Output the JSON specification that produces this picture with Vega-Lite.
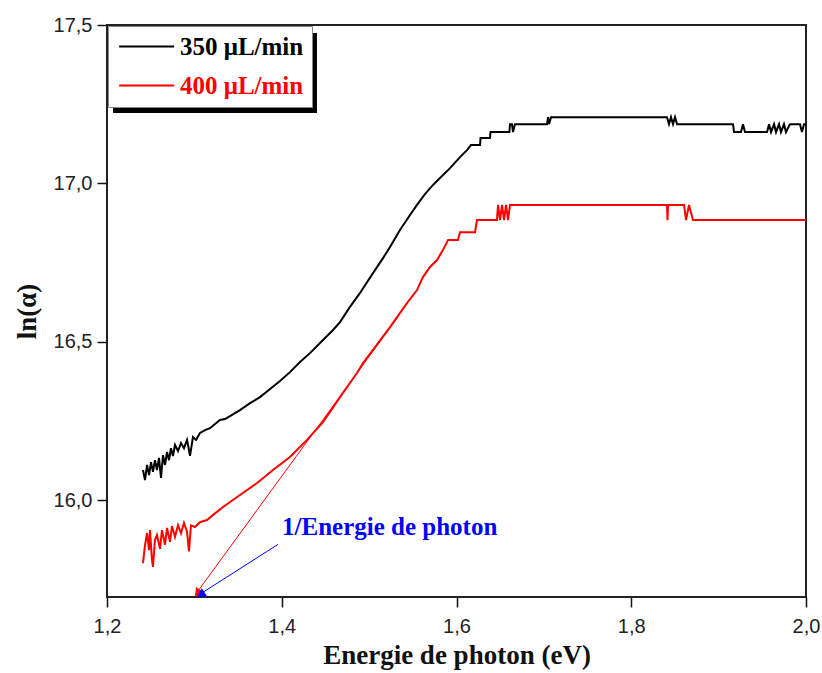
{
  "$schema": "https://vega.github.io/schema/vega-lite/v6.json",
  "width": 699,
  "height": 572,
  "autosize": "none",
  "padding": {"left": 107, "top": 25, "right": 16, "bottom": 76},
  "background": "white",
  "config": {
    "view": {"stroke": "#222", "strokeWidth": 2},
    "axis": {"grid": false, "domain": false, "ticks": true, "tickColor": "#111", "tickWidth": 1.5, "tickSize": 10}
  },
  "datasets": {
    "curves": [
      {"series": "350 μL/min", "i": 1, "E": 1.2412, "lna": 16.095},
      {"series": "350 μL/min", "i": 2, "E": 1.2435, "lna": 16.063},
      {"series": "350 μL/min", "i": 3, "E": 1.2458, "lna": 16.111},
      {"series": "350 μL/min", "i": 4, "E": 1.2481, "lna": 16.079},
      {"series": "350 μL/min", "i": 5, "E": 1.2504, "lna": 16.120},
      {"series": "350 μL/min", "i": 6, "E": 1.2526, "lna": 16.089},
      {"series": "350 μL/min", "i": 7, "E": 1.2549, "lna": 16.126},
      {"series": "350 μL/min", "i": 8, "E": 1.2572, "lna": 16.095},
      {"series": "350 μL/min", "i": 9, "E": 1.2595, "lna": 16.133},
      {"series": "350 μL/min", "i": 10, "E": 1.2618, "lna": 16.070},
      {"series": "350 μL/min", "i": 11, "E": 1.2641, "lna": 16.142},
      {"series": "350 μL/min", "i": 12, "E": 1.2664, "lna": 16.111},
      {"series": "350 μL/min", "i": 13, "E": 1.2687, "lna": 16.152},
      {"series": "350 μL/min", "i": 14, "E": 1.2710, "lna": 16.126},
      {"series": "350 μL/min", "i": 15, "E": 1.2732, "lna": 16.164},
      {"series": "350 μL/min", "i": 16, "E": 1.2755, "lna": 16.139},
      {"series": "350 μL/min", "i": 17, "E": 1.2778, "lna": 16.174},
      {"series": "350 μL/min", "i": 18, "E": 1.2813, "lna": 16.155},
      {"series": "350 μL/min", "i": 19, "E": 1.2847, "lna": 16.180},
      {"series": "350 μL/min", "i": 20, "E": 1.2881, "lna": 16.164},
      {"series": "350 μL/min", "i": 21, "E": 1.2916, "lna": 16.190},
      {"series": "350 μL/min", "i": 22, "E": 1.2950, "lna": 16.140},
      {"series": "350 μL/min", "i": 23, "E": 1.2984, "lna": 16.199},
      {"series": "350 μL/min", "i": 24, "E": 1.3019, "lna": 16.190},
      {"series": "350 μL/min", "i": 25, "E": 1.3064, "lna": 16.212},
      {"series": "350 μL/min", "i": 26, "E": 1.3122, "lna": 16.221},
      {"series": "350 μL/min", "i": 27, "E": 1.3179, "lna": 16.227},
      {"series": "350 μL/min", "i": 28, "E": 1.3236, "lna": 16.240},
      {"series": "350 μL/min", "i": 29, "E": 1.3293, "lna": 16.253},
      {"series": "350 μL/min", "i": 30, "E": 1.3351, "lna": 16.256},
      {"series": "350 μL/min", "i": 31, "E": 1.3408, "lna": 16.265},
      {"series": "350 μL/min", "i": 32, "E": 1.3522, "lna": 16.284},
      {"series": "350 μL/min", "i": 33, "E": 1.3637, "lna": 16.306},
      {"series": "350 μL/min", "i": 34, "E": 1.3751, "lna": 16.325},
      {"series": "350 μL/min", "i": 35, "E": 1.3866, "lna": 16.351},
      {"series": "350 μL/min", "i": 36, "E": 1.3980, "lna": 16.376},
      {"series": "350 μL/min", "i": 37, "E": 1.4094, "lna": 16.404},
      {"series": "350 μL/min", "i": 38, "E": 1.4209, "lna": 16.436},
      {"series": "350 μL/min", "i": 39, "E": 1.4323, "lna": 16.464},
      {"series": "350 μL/min", "i": 40, "E": 1.4438, "lna": 16.496},
      {"series": "350 μL/min", "i": 41, "E": 1.4587, "lna": 16.537},
      {"series": "350 μL/min", "i": 42, "E": 1.4667, "lna": 16.562},
      {"series": "350 μL/min", "i": 43, "E": 1.4781, "lna": 16.610},
      {"series": "350 μL/min", "i": 44, "E": 1.4896, "lna": 16.654},
      {"series": "350 μL/min", "i": 45, "E": 1.4976, "lna": 16.688},
      {"series": "350 μL/min", "i": 46, "E": 1.5067, "lna": 16.726},
      {"series": "350 μL/min", "i": 47, "E": 1.5159, "lna": 16.764},
      {"series": "350 μL/min", "i": 48, "E": 1.5239, "lna": 16.799},
      {"series": "350 μL/min", "i": 49, "E": 1.5353, "lna": 16.853},
      {"series": "350 μL/min", "i": 50, "E": 1.5468, "lna": 16.900},
      {"series": "350 μL/min", "i": 51, "E": 1.5548, "lna": 16.932},
      {"series": "350 μL/min", "i": 52, "E": 1.5639, "lna": 16.966},
      {"series": "350 μL/min", "i": 53, "E": 1.5731, "lna": 16.995},
      {"series": "350 μL/min", "i": 54, "E": 1.5811, "lna": 17.017},
      {"series": "350 μL/min", "i": 55, "E": 1.5926, "lna": 17.048},
      {"series": "350 μL/min", "i": 56, "E": 1.6040, "lna": 17.083},
      {"series": "350 μL/min", "i": 57, "E": 1.6120, "lna": 17.105},
      {"series": "350 μL/min", "i": 58, "E": 1.6166, "lna": 17.121},
      {"series": "350 μL/min", "i": 59, "E": 1.6269, "lna": 17.121},
      {"series": "350 μL/min", "i": 60, "E": 1.6275, "lna": 17.143},
      {"series": "350 μL/min", "i": 61, "E": 1.6383, "lna": 17.143},
      {"series": "350 μL/min", "i": 62, "E": 1.6389, "lna": 17.162},
      {"series": "350 μL/min", "i": 63, "E": 1.6606, "lna": 17.162},
      {"series": "350 μL/min", "i": 64, "E": 1.6612, "lna": 17.187},
      {"series": "350 μL/min", "i": 65, "E": 1.6635, "lna": 17.187},
      {"series": "350 μL/min", "i": 66, "E": 1.6647, "lna": 17.162},
      {"series": "350 μL/min", "i": 67, "E": 1.6669, "lna": 17.187},
      {"series": "350 μL/min", "i": 68, "E": 1.7036, "lna": 17.187},
      {"series": "350 μL/min", "i": 69, "E": 1.7048, "lna": 17.209},
      {"series": "350 μL/min", "i": 70, "E": 1.7059, "lna": 17.187},
      {"series": "350 μL/min", "i": 71, "E": 1.7082, "lna": 17.209},
      {"series": "350 μL/min", "i": 72, "E": 1.8409, "lna": 17.209},
      {"series": "350 μL/min", "i": 73, "E": 1.8432, "lna": 17.187},
      {"series": "350 μL/min", "i": 74, "E": 1.8455, "lna": 17.209},
      {"series": "350 μL/min", "i": 75, "E": 1.8478, "lna": 17.187},
      {"series": "350 μL/min", "i": 76, "E": 1.8501, "lna": 17.209},
      {"series": "350 μL/min", "i": 77, "E": 1.8524, "lna": 17.187},
      {"series": "350 μL/min", "i": 78, "E": 1.9165, "lna": 17.187},
      {"series": "350 μL/min", "i": 79, "E": 1.9176, "lna": 17.162},
      {"series": "350 μL/min", "i": 80, "E": 1.9256, "lna": 17.162},
      {"series": "350 μL/min", "i": 81, "E": 1.9279, "lna": 17.187},
      {"series": "350 μL/min", "i": 82, "E": 1.9302, "lna": 17.162},
      {"series": "350 μL/min", "i": 83, "E": 1.9554, "lna": 17.162},
      {"series": "350 μL/min", "i": 84, "E": 1.9577, "lna": 17.187},
      {"series": "350 μL/min", "i": 85, "E": 1.9600, "lna": 17.162},
      {"series": "350 μL/min", "i": 86, "E": 1.9634, "lna": 17.187},
      {"series": "350 μL/min", "i": 87, "E": 1.9657, "lna": 17.162},
      {"series": "350 μL/min", "i": 88, "E": 1.9691, "lna": 17.187},
      {"series": "350 μL/min", "i": 89, "E": 1.9714, "lna": 17.162},
      {"series": "350 μL/min", "i": 90, "E": 1.9748, "lna": 17.187},
      {"series": "350 μL/min", "i": 91, "E": 1.9771, "lna": 17.162},
      {"series": "350 μL/min", "i": 92, "E": 1.9817, "lna": 17.187},
      {"series": "350 μL/min", "i": 93, "E": 1.9931, "lna": 17.187},
      {"series": "350 μL/min", "i": 94, "E": 1.9954, "lna": 17.162},
      {"series": "350 μL/min", "i": 95, "E": 1.9977, "lna": 17.187},
      {"series": "350 μL/min", "i": 96, "E": 2.0000, "lna": 17.187},
      {"series": "400 μL/min", "i": 1, "E": 1.2412, "lna": 15.801},
      {"series": "400 μL/min", "i": 2, "E": 1.2435, "lna": 15.858},
      {"series": "400 μL/min", "i": 3, "E": 1.2458, "lna": 15.896},
      {"series": "400 μL/min", "i": 4, "E": 1.2481, "lna": 15.842},
      {"series": "400 μL/min", "i": 5, "E": 1.2492, "lna": 15.905},
      {"series": "400 μL/min", "i": 6, "E": 1.2515, "lna": 15.811},
      {"series": "400 μL/min", "i": 7, "E": 1.2526, "lna": 15.789},
      {"series": "400 μL/min", "i": 8, "E": 1.2549, "lna": 15.874},
      {"series": "400 μL/min", "i": 9, "E": 1.2572, "lna": 15.890},
      {"series": "400 μL/min", "i": 10, "E": 1.2607, "lna": 15.846},
      {"series": "400 μL/min", "i": 11, "E": 1.2629, "lna": 15.905},
      {"series": "400 μL/min", "i": 12, "E": 1.2664, "lna": 15.859},
      {"series": "400 μL/min", "i": 13, "E": 1.2687, "lna": 15.912},
      {"series": "400 μL/min", "i": 14, "E": 1.2721, "lna": 15.868},
      {"series": "400 μL/min", "i": 15, "E": 1.2744, "lna": 15.918},
      {"series": "400 μL/min", "i": 16, "E": 1.2778, "lna": 15.884},
      {"series": "400 μL/min", "i": 17, "E": 1.2813, "lna": 15.921},
      {"series": "400 μL/min", "i": 18, "E": 1.2847, "lna": 15.895},
      {"series": "400 μL/min", "i": 19, "E": 1.2881, "lna": 15.928},
      {"series": "400 μL/min", "i": 20, "E": 1.2916, "lna": 15.900},
      {"series": "400 μL/min", "i": 21, "E": 1.2938, "lna": 15.838},
      {"series": "400 μL/min", "i": 22, "E": 1.2961, "lna": 15.920},
      {"series": "400 μL/min", "i": 23, "E": 1.3007, "lna": 15.915},
      {"series": "400 μL/min", "i": 24, "E": 1.3064, "lna": 15.930},
      {"series": "400 μL/min", "i": 25, "E": 1.3144, "lna": 15.937},
      {"series": "400 μL/min", "i": 26, "E": 1.3236, "lna": 15.958},
      {"series": "400 μL/min", "i": 27, "E": 1.3328, "lna": 15.978},
      {"series": "400 μL/min", "i": 28, "E": 1.3522, "lna": 16.016},
      {"series": "400 μL/min", "i": 29, "E": 1.3717, "lna": 16.054},
      {"series": "400 μL/min", "i": 30, "E": 1.3900, "lna": 16.095},
      {"series": "400 μL/min", "i": 31, "E": 1.4094, "lna": 16.136},
      {"series": "400 μL/min", "i": 32, "E": 1.4289, "lna": 16.190},
      {"series": "400 μL/min", "i": 33, "E": 1.4472, "lna": 16.246},
      {"series": "400 μL/min", "i": 34, "E": 1.4667, "lna": 16.325},
      {"series": "400 μL/min", "i": 35, "E": 1.4861, "lna": 16.401},
      {"series": "400 μL/min", "i": 36, "E": 1.4930, "lna": 16.433},
      {"series": "400 μL/min", "i": 37, "E": 1.5044, "lna": 16.474},
      {"series": "400 μL/min", "i": 38, "E": 1.5239, "lna": 16.546},
      {"series": "400 μL/min", "i": 39, "E": 1.5433, "lna": 16.622},
      {"series": "400 μL/min", "i": 40, "E": 1.5548, "lna": 16.663},
      {"series": "400 μL/min", "i": 41, "E": 1.5616, "lna": 16.704},
      {"series": "400 μL/min", "i": 42, "E": 1.5697, "lna": 16.736},
      {"series": "400 μL/min", "i": 43, "E": 1.5777, "lna": 16.758},
      {"series": "400 μL/min", "i": 44, "E": 1.5846, "lna": 16.790},
      {"series": "400 μL/min", "i": 45, "E": 1.5903, "lna": 16.821},
      {"series": "400 μL/min", "i": 46, "E": 1.6017, "lna": 16.821},
      {"series": "400 μL/min", "i": 47, "E": 1.6040, "lna": 16.846},
      {"series": "400 μL/min", "i": 48, "E": 1.6212, "lna": 16.846},
      {"series": "400 μL/min", "i": 49, "E": 1.6235, "lna": 16.884},
      {"series": "400 μL/min", "i": 50, "E": 1.6463, "lna": 16.884},
      {"series": "400 μL/min", "i": 51, "E": 1.6475, "lna": 16.932},
      {"series": "400 μL/min", "i": 52, "E": 1.6498, "lna": 16.884},
      {"series": "400 μL/min", "i": 53, "E": 1.6521, "lna": 16.932},
      {"series": "400 μL/min", "i": 54, "E": 1.6544, "lna": 16.884},
      {"series": "400 μL/min", "i": 55, "E": 1.6567, "lna": 16.932},
      {"series": "400 μL/min", "i": 56, "E": 1.6590, "lna": 16.884},
      {"series": "400 μL/min", "i": 57, "E": 1.6612, "lna": 16.932},
      {"series": "400 μL/min", "i": 58, "E": 1.8409, "lna": 16.932},
      {"series": "400 μL/min", "i": 59, "E": 1.8415, "lna": 16.884},
      {"series": "400 μL/min", "i": 60, "E": 1.8421, "lna": 16.932},
      {"series": "400 μL/min", "i": 61, "E": 1.8604, "lna": 16.932},
      {"series": "400 μL/min", "i": 62, "E": 1.8627, "lna": 16.884},
      {"series": "400 μL/min", "i": 63, "E": 1.8661, "lna": 16.932},
      {"series": "400 μL/min", "i": 64, "E": 1.8707, "lna": 16.884},
      {"series": "400 μL/min", "i": 65, "E": 2.0000, "lna": 16.884}
    ],
    "tangent": [
      {"E": 1.3007, "lna": 15.700},
      {"E": 1.5330, "lna": 16.578}
    ],
    "pointer": [
      {"E": 1.3030, "lna": 15.697},
      {"E": 1.3957, "lna": 15.860}
    ]
  },
  "layer": [
    {
      "data": {"values": [{"x1": 1.2069, "x2": 1.4403, "y1": 17.4747, "y2": 17.2221}]},
      "mark": {"type": "rect", "color": "black"},
      "encoding": {
        "x": {"field": "x1", "type": "quantitative", "scale": {"domain": [1.2, 2.0], "nice": false, "zero": false, "padding": 0}},
        "x2": {"field": "x2"},
        "y": {"field": "y1", "type": "quantitative", "scale": {"domain": [15.694, 17.5], "nice": false, "zero": false, "padding": 0}},
        "y2": {"field": "y2"}
      }
    },
    {
      "data": {"name": "curves"},
      "mark": {"type": "line", "strokeWidth": 2, "interpolate": "linear"},
      "encoding": {
        "x": {
          "field": "E",
          "type": "quantitative",
          "scale": {"domain": [1.2, 2.0], "nice": false, "zero": false, "padding": 0},
          "axis": {
            "title": "Energie de photon (eV)",
            "values": [1.2, 1.4, 1.6, 1.8, 2.0],
            "labelExpr": "replace(format(datum.value,'.1f'),'.',',')",
            "ticks": true,
            "tickSize": 10,
            "labelFont": "Liberation Sans",
            "labelFontSize": 20,
            "labelColor": "#222",
            "labelPadding": 9,
            "labelFlush": false,
            "labelOverlap": false,
            "titleFont": "Liberation Serif",
            "titleFontSize": 27,
            "titleFontWeight": "bold",
            "titleColor": "#111",
            "titlePadding": 6
          }
        },
        "y": {
          "field": "lna",
          "type": "quantitative",
          "scale": {"domain": [15.694, 17.5], "nice": false, "zero": false, "padding": 0},
          "axis": {
            "title": "ln(α)",
            "values": [16.0, 16.5, 17.0, 17.5],
            "labelExpr": "replace(format(datum.value,'.1f'),'.',',')",
            "ticks": true,
            "tickSize": 10,
            "labelFont": "Liberation Sans",
            "labelFontSize": 20,
            "labelColor": "#222",
            "labelPadding": 5,
            "labelFlush": false,
            "labelOverlap": false,
            "titleFont": "Liberation Serif",
            "titleFontSize": 27,
            "titleFontWeight": "bold",
            "titleColor": "#111",
            "titlePadding": 12
          }
        },
        "color": {
          "field": "series",
          "type": "nominal",
          "scale": {"domain": ["350 μL/min", "400 μL/min"], "range": ["#000000", "#ff0000"]},
          "legend": {
            "title": null,
            "orient": "none",
            "legendX": 1,
            "legendY": 1,
            "symbolType": "M-1.7,0H8.3",
            "symbolSize": 121,
            "symbolStrokeWidth": 2,
            "labelOffset": 39,
            "labelFont": "Liberation Serif",
            "labelFontSize": 25,
            "labelFontWeight": "bold",
            "labelLimit": 400,
            "rowPadding": 13,
            "padding": 8,
            "fillColor": "white",
            "strokeColor": "#888",
            "encode": {
              "labels": {"update": {"fill": {"signal": "datum.value == '400 μL/min' ? '#ff0000' : '#000000'"}}}
            }
          }
        },
        "order": {"field": "i", "type": "quantitative"}
      }
    },
    {
      "data": {"name": "tangent"},
      "mark": {"type": "line", "color": "#ff0000", "strokeWidth": 1},
      "encoding": {
        "x": {"field": "E", "type": "quantitative"},
        "y": {"field": "lna", "type": "quantitative"}
      }
    },
    {
      "data": {"name": "pointer"},
      "mark": {"type": "line", "color": "#0000ff", "strokeWidth": 1},
      "encoding": {
        "x": {"field": "E", "type": "quantitative"},
        "y": {"field": "lna", "type": "quantitative"}
      }
    },
    {
      "data": {"values": [{"E": 1.3037, "lna": 15.7056}]},
      "mark": {"type": "point", "shape": "triangle-up", "angle": 215, "filled": true, "opacity": 1, "size": 100, "color": "#ff0000"},
      "encoding": {
        "x": {"field": "E", "type": "quantitative"},
        "y": {"field": "lna", "type": "quantitative"}
      }
    },
    {
      "data": {"values": [{"E": 1.3074, "lna": 15.7014}]},
      "mark": {"type": "point", "shape": "triangle-up", "angle": 237, "filled": true, "opacity": 1, "size": 100, "color": "#0000ff"},
      "encoding": {
        "x": {"field": "E", "type": "quantitative"},
        "y": {"field": "lna", "type": "quantitative"}
      }
    },
    {
      "data": {"values": [{"E": 1.4003, "lna": 15.915, "label": "1/Energie de photon"}]},
      "mark": {"type": "text", "align": "left", "baseline": "middle", "font": "Liberation Serif", "fontSize": 25, "fontWeight": "bold", "color": "#0000ff"},
      "encoding": {
        "x": {"field": "E", "type": "quantitative"},
        "y": {"field": "lna", "type": "quantitative"},
        "text": {"field": "label"}
      }
    }
  ]
}
